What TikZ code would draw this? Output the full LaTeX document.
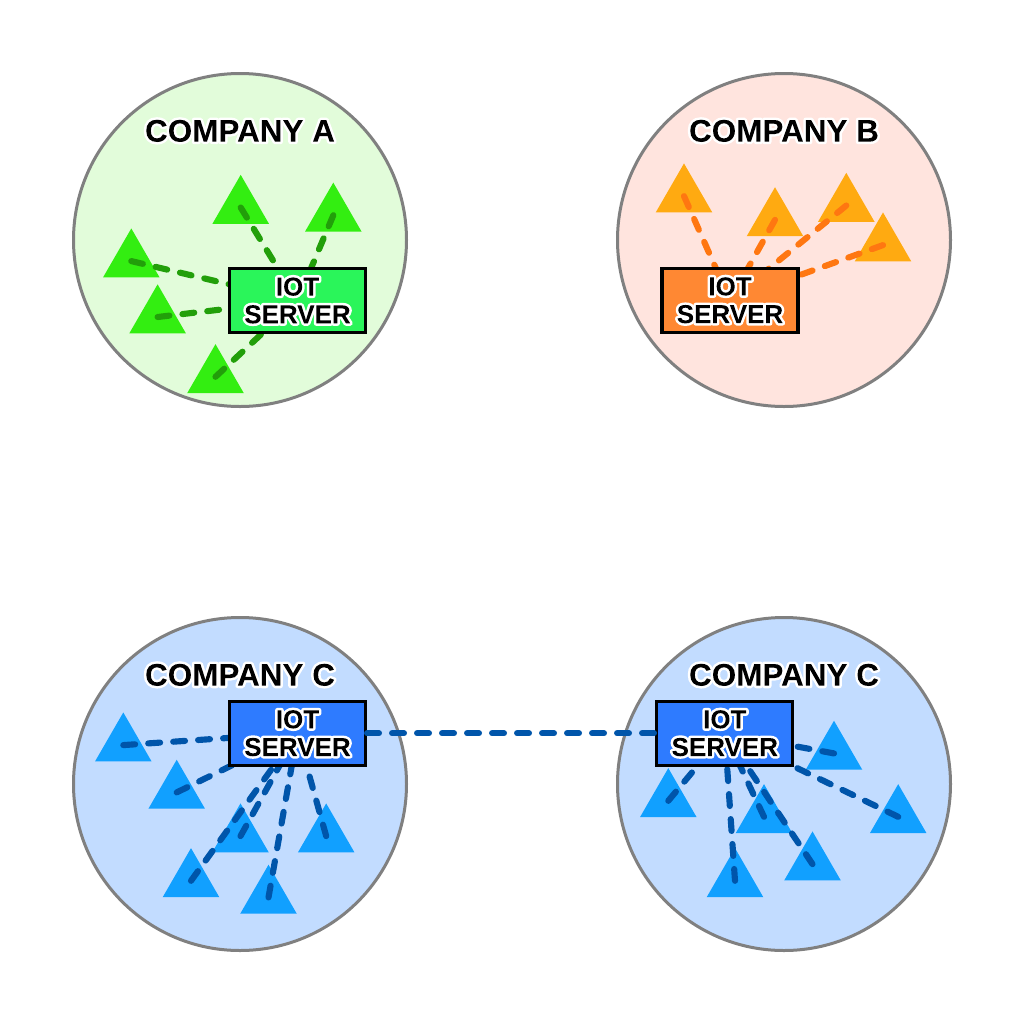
\documentclass[tikz,border=0pt]{standalone}
\usepackage{fontspec}
\setmainfont{Liberation Sans}
\usetikzlibrary{shapes.geometric}
\definecolor{circA}{HTML}{E2FCDA}
\definecolor{triA}{HTML}{33EE11}
\definecolor{lnA}{HTML}{229F0A}
\definecolor{boxA}{HTML}{2AF55A}
\definecolor{circB}{HTML}{FFE4DE}
\definecolor{triB}{HTML}{FFAA11}
\definecolor{lnB}{HTML}{FF7711}
\definecolor{boxB}{HTML}{FF8833}
\definecolor{circC}{HTML}{C2DCFF}
\definecolor{triC}{HTML}{11A0FF}
\definecolor{lnC}{HTML}{0055AA}
\definecolor{boxC}{HTML}{2E7BFF}
\definecolor{rim}{HTML}{808080}
\makeatletter
\newbox\glowbox
% one text object: drawn white with a white outline, used as a clip, then filled black
\newcommand\halo[1]{%
  \setbox\glowbox\hbox{#1}%
  \special{x:gsave}%
  \special{pdf:literal direct 1 1 1 rg 1 1 1 RG 3.8 w 1 j 6 Tr}%
  \copy\glowbox
  \special{pdf:literal 0 0 0 rg -\strip@pt\dimexpr\wd\glowbox+6pt\relax\space -12 \strip@pt\dimexpr\wd\glowbox+12pt\relax\space 44 re f}%
  \special{x:grestore}%
}
\makeatother
\tikzset{
  zone/.style={circle, draw=rim, line width=2.25pt, minimum size=249.75pt, inner sep=0pt},
  dev/.style={regular polygon, regular polygon sides=3, minimum size=49pt, inner sep=0pt, draw=none},
  link/.style={line width=4.6pt, line cap=round, dash pattern=on 8.9pt off 9.85pt},
  srv/.style={draw=black, line width=2.4pt, minimum width=102pt, minimum height=48pt, inner sep=0pt,
    align=center, font=\fontsize{19.5}{20.8}\selectfont\bfseries},
  title/.style={anchor=base, font=\fontsize{23.6}{27}\selectfont\bfseries}
}
\begin{document}
\begin{tikzpicture}[x=0.75pt,y=-0.75pt]
\useasboundingbox[fill=white] (0,0) rectangle (1024,1025);
% zones
\node[zone, fill=circA] (zA) at (240,240) {};
\node[zone, fill=circB] (zB) at (784,240) {};
\node[zone, fill=circC] (zC1) at (240,784) {};
\node[zone, fill=circC] (zC2) at (784,784) {};
% devices A
\node[dev, fill=triA] (a1) at (240.7,207.5) {};
\node[dev, fill=triA] (a2) at (333.3,215.3) {};
\node[dev, fill=triA] (a3) at (131.3,261.1) {};
\node[dev, fill=triA] (a4) at (157.6,317.0) {};
\node[dev, fill=triA] (a5) at (215.5,376.8) {};
% devices B
\node[dev, fill=triB] (b1) at (684.0,196.1) {};
\node[dev, fill=triB] (b2) at (775.0,219.9) {};
\node[dev, fill=triB] (b3) at (846.3,205.5) {};
\node[dev, fill=triB] (b4) at (883.0,245.1) {};
% devices C left
\node[dev, fill=triC] (c1) at (123.3,745.1) {};
\node[dev, fill=triC] (c2) at (176.7,792.4) {};
\node[dev, fill=triC] (c3) at (240.5,836.1) {};
\node[dev, fill=triC] (c4) at (326.2,836.1) {};
\node[dev, fill=triC] (c5) at (191.0,880.8) {};
\node[dev, fill=triC] (c6) at (268.5,897.4) {};
% devices C right
\node[dev, fill=triC] (d1) at (834.0,753.4) {};
\node[dev, fill=triC] (d2) at (668.3,800.8) {};
\node[dev, fill=triC] (d3) at (764.0,816.8) {};
\node[dev, fill=triC] (d4) at (898.2,816.8) {};
\node[dev, fill=triC] (d5) at (812.5,864.1) {};
\node[dev, fill=triC] (d6) at (735.0,880.8) {};
% server positions
\coordinate (pA) at (297.5,300.5);
\coordinate (pB) at (730.0,300.3);
\coordinate (pC1) at (297.5,733.2);
\coordinate (pC2) at (724.8,733.2);
% links
\foreach \t in {a1,a2,a3,a4,a5} \draw[link, lnA] (\t.center) -- (pA);
\foreach \t in {b1,b2,b3,b4} \draw[link, lnB] (\t.center) -- (pB);
\foreach \t in {c1,c2,c3,c4,c5,c6} \draw[link, lnC] (\t.center) -- (pC1);
\foreach \t in {d1,d2,d3,d4,d5,d6} \draw[link, lnC] (\t.center) -- (pC2);
% servers
\node[srv, fill=boxA] (sA) at (pA) {\halo{IOT}\\\halo{SERVER}};
\node[srv, fill=boxB] (sB) at (pB) {\halo{IOT}\\\halo{SERVER}};
\node[srv, fill=boxC] (sC1) at (pC1) {\halo{IOT}\\\halo{SERVER}};
\node[srv, fill=boxC] (sC2) at (pC2) {\halo{IOT}\\\halo{SERVER}};
% link between the two C servers
\draw[link, lnC] (sC1) -- (sC2);
% titles
\node[title] (tA) at (240,141.7) {\halo{COMPANY A}};
\node[title] (tB) at (784,141.7) {\halo{COMPANY B}};
\node[title] (tC1) at (240,685.7) {\halo{COMPANY C}};
\node[title] (tC2) at (784,685.7) {\halo{COMPANY C}};
\end{tikzpicture}
\end{document}
